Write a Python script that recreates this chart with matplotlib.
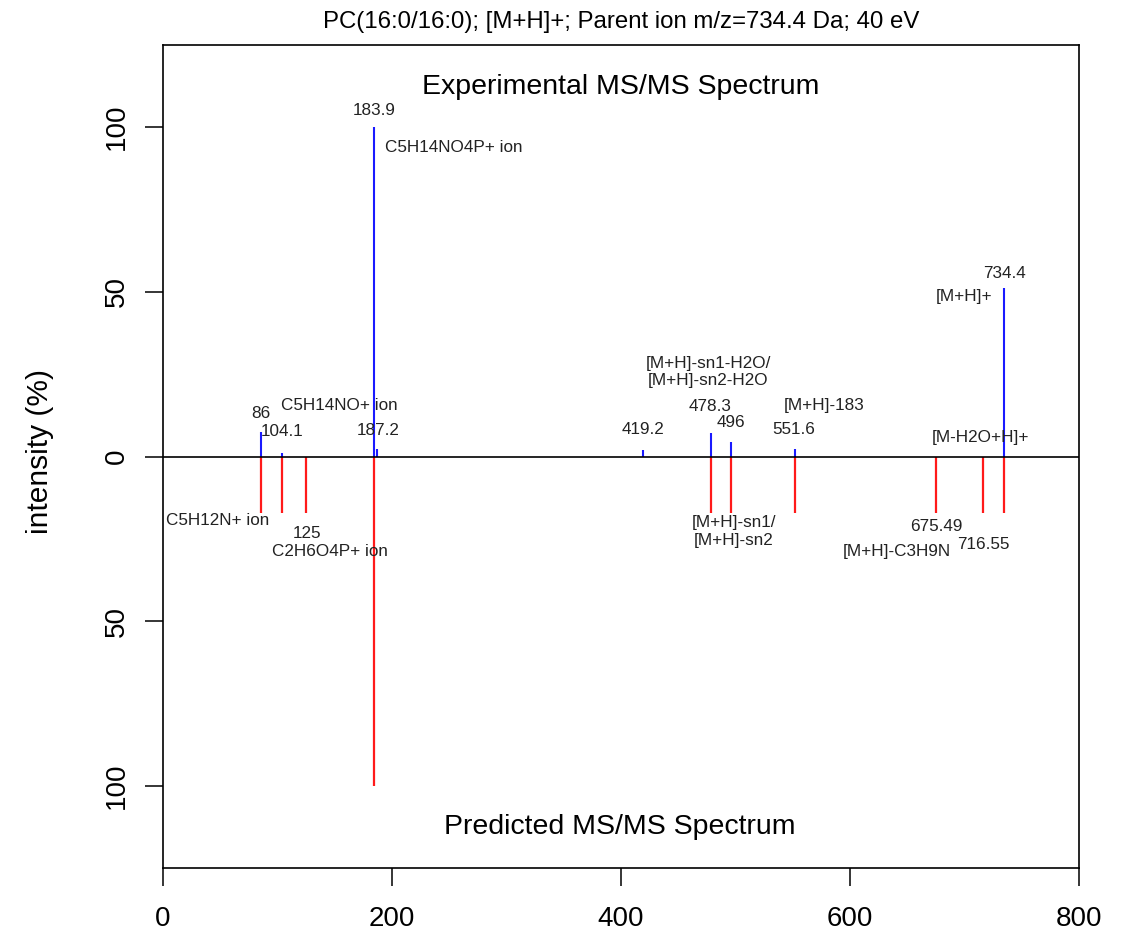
import matplotlib
matplotlib.use("Agg")
import matplotlib.pyplot as plt

plt.rcParams['font.family'] = ['Liberation Sans', 'DejaVu Sans']

# experimental spectrum (blue, up)
exp_mz = [86.0, 104.1, 183.9, 187.2, 419.2, 478.3, 496.0, 551.6, 734.4]
exp_int = [7.5, 1.2, 100.0, 2.2, 2.1, 7.2, 4.3, 2.2, 51.0]

# predicted spectrum (red, down)
pred_mz = [86.0, 104.1, 125.0, 183.9, 478.3, 496.0, 551.6, 675.49, 716.55, 734.4]
pred_int = [17.0, 17.0, 17.0, 100.0, 17.0, 17.0, 17.0, 17.0, 17.0, 17.0]

# peak labels: text, x, y, horizontal alignment
labels = [
  ("183.9", 184.3, 105.0, "center"),
  ("C5H14NO4P+ ion", 193.9, 93.8, "left"),
  ("86", 85.6, 13.1, "center"),
  ("104.1", 103.7, 7.6, "center"),
  ("C5H14NO+ ion", 153.7, 15.5, "center"),
  ("187.2", 187.5, 8.0, "center"),
  ("C5H12N+ ion", 48.0, -19.4, "center"),
  ("125", 125.5, -23.4, "center"),
  ("C2H6O4P+ ion", 145.9, -28.8, "center"),
  ("419.2", 419.0, 8.2, "center"),
  ("[M+H]-sn1-H2O/\n[M+H]-sn2-H2O", 476.0, 25.6, "center"),
  ("478.3", 477.7, 15.3, "center"),
  ("496", 495.8, 10.4, "center"),
  ("551.6", 551.1, 8.2, "center"),
  ("[M+H]-183", 577.7, 15.5, "center"),
  ("[M+H]-sn1/\n[M+H]-sn2", 498.7, -22.7, "center"),
  ("734.4", 734.5, 55.4, "center"),
  ("[M+H]+", 699.6, 48.5, "center"),
  ("[M-H2O+H]+", 714.4, 5.8, "center"),
  ("675.49", 675.7, -21.2, "center"),
  ("[M+H]-C3H9N", 640.8, -28.8, "center"),
  ("716.55", 716.2, -26.8, "center"),
]

y_ticks = [-100, -50, 0, 50, 100]
x_ticks = [0, 200, 400, 600, 800]


def make_plot(filename):
  fig = plt.figure(figsize=(11.46, 9.41), dpi=100)
  ax = fig.add_axes([163 / 1146, 73 / 941, 916 / 1146, 823 / 941])

  ax.vlines(exp_mz, 0, exp_int, color="#1a1aff", lw=1.5)
  ax.vlines(pred_mz, 0, [-v for v in pred_int], color="#ff1a1a", lw=1.6)
  ax.axhline(0, color="black", lw=1.2)

  for txt, x, y, ha in labels:
    ax.text(x, y, txt, ha=ha, va="center", fontsize=12.3, color="#222222")

  ax.text(400, 112, "Experimental MS/MS Spectrum", ha="center", va="center", fontsize=20.5)
  ax.text(399, -112.5, "Predicted MS/MS Spectrum", ha="center", va="center", fontsize=20.5)

  ax.set_xlim(0, 800)
  ax.set_ylim(-124.8, 124.8)
  ax.set_xticks(x_ticks)
  ax.set_xticklabels([str(t) for t in x_ticks])
  ax.set_yticks(y_ticks)
  ax.set_yticklabels([str(abs(t)) for t in y_ticks], rotation=90, va="center")
  ax.tick_params(axis="both", length=13, width=1.1, labelsize=20, direction="out")
  ax.tick_params(axis="x", pad=14)
  ax.tick_params(axis="y", pad=11)
  for sp in ax.spines.values():
    sp.set_linewidth(1.2)

  fig.text(40 / 1146, 1 - 452 / 941, "intensity (%)", rotation=90, ha="center", va="center", fontsize=21.5)
  fig.text(621 / 1146, 1 - 22 / 941, "PC(16:0/16:0); [M+H]+; Parent ion m/z=734.4 Da; 40 eV",
           ha="center", va="center", fontsize=17.3)

  plt.savefig(filename, dpi=100)


def main():
  make_plot("out.png")


if __name__ == "__main__":
  main()
